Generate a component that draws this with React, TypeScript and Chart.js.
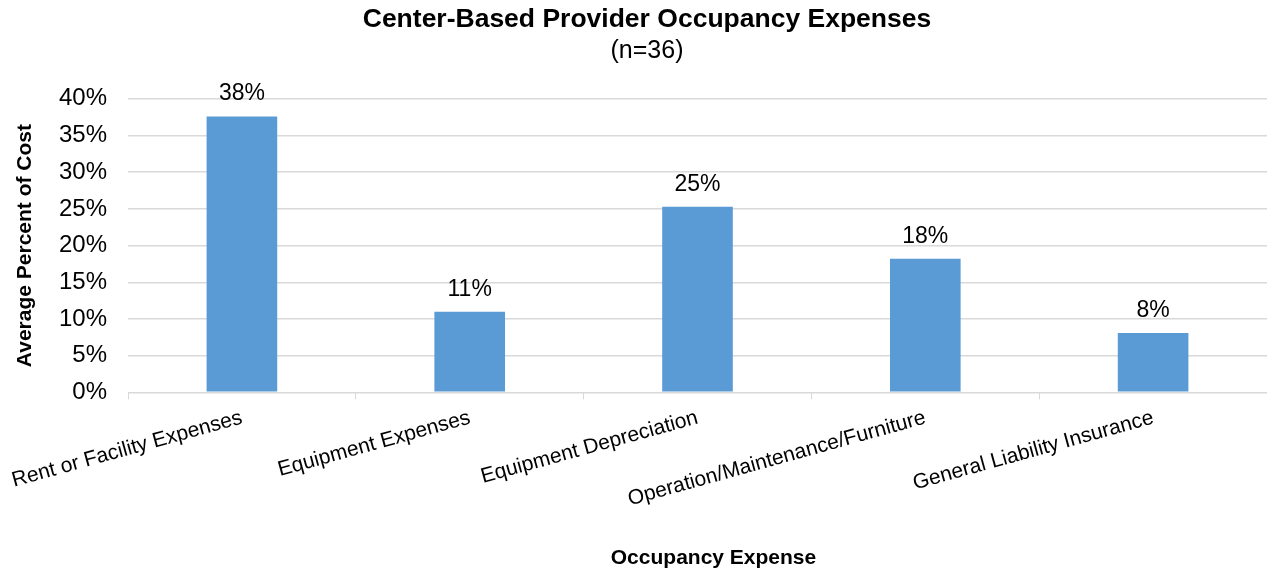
import React, { useEffect, useRef } from "react";
import { Chart, registerables } from "chart.js";

Chart.register(...registerables);

const categories = [
  "Rent or Facility Expenses",
  "Equipment Expenses",
  "Equipment Depreciation",
  "Operation/Maintenance/Furniture",
  "General Liability Insurance",
];
const values = [37.6, 11.0, 25.3, 18.2, 8.1];
const dataLabels = ["38%", "11%", "25%", "18%", "8%"];
const yTicks = [0, 5, 10, 15, 20, 25, 30, 35, 40];
const xAxisTitle = "Occupancy Expense";

const FONT = "'Liberation Sans', Arial, sans-serif";

const labelPlugin = {
  id: "barLabels",
  afterDatasetsDraw(chart: any) {
    const ctx = chart.ctx;
    const meta = chart.getDatasetMeta(0);
    ctx.save();
    ctx.font = `23px ${FONT}`;
    ctx.fillStyle = "#000";
    ctx.textAlign = "center";
    ctx.textBaseline = "alphabetic";
    meta.data.forEach((bar: any, i: number) => {
      ctx.fillText(dataLabels[i], bar.x, bar.y - 16);
    });
    // x axis title (offset to the right like the original)
    ctx.font = `bold 21px ${FONT}`;
    ctx.textBaseline = "middle";
    const ca = chart.chartArea;
    ctx.fillText(xAxisTitle, (ca.left + ca.right) / 2 + 16, chart.height - 16);
    ctx.restore();
  },
};

export default function App() {
  const ref = useRef<HTMLCanvasElement | null>(null);
  useEffect(() => {
    if (!ref.current) return;
    const chart = new Chart(ref.current, {
      type: "bar",
      data: {
        labels: categories,
        datasets: [
          {
            data: values,
            backgroundColor: "#5B9BD5",
            categoryPercentage: 1,
            barPercentage: 0.31,
          },
        ],
      },
      options: {
        animation: false,
        responsive: true,
        maintainAspectRatio: false,
        layout: { padding: { left: 27, right: 0, top: 4, bottom: 56 } },
        plugins: {
          legend: { display: false },
          tooltip: { enabled: false },
          title: {
            display: true,
            text: "Center-Based Provider Occupancy Expenses",
            color: "#000",
            font: { family: FONT, size: 26.5, weight: "bold" },
            padding: { top: 0, bottom: 0 },
          },
          subtitle: {
            display: true,
            text: "(n=36)",
            color: "#000",
            font: { family: FONT, size: 25 },
            padding: { top: 0, bottom: 33 },
          },
        },
        scales: {
          x: {
            offset: true,
            afterFit: (scale: any) => {
              scale.paddingLeft = 0;
            },
            grid: {
              display: true,
              drawOnChartArea: false,
              drawTicks: true,
              tickLength: 7,
              offset: true,
              color: "#d9d9d9",
            },
            border: { display: true, color: "#d9d9d9", width: 1 },
            ticks: {
              color: "#000",
              font: { family: FONT, size: 21 },
              minRotation: 15.5,
              maxRotation: 15.5,
              autoSkip: false,
              padding: 6,
            },
          },
          y: {
            min: 0,
            max: 40,
            afterBuildTicks: (axis: any) => {
              axis.ticks = yTicks.map((v) => ({ value: v }));
            },
            afterFit: (scale: any) => {
              scale.width = 101;
            },
            grid: { color: "#d9d9d9", drawTicks: false, lineWidth: 1.5 },
            border: { display: false },
            ticks: {
              color: "#000",
              font: { family: FONT, size: 24 },
              padding: 21,
              callback: (v: any) => `${v}%`,
            },
            title: {
              display: true,
              text: "Average Percent of Cost",
              color: "#000",
              font: { family: FONT, size: 21, weight: "bold" },
              padding: { top: -14.6, bottom: 20 },
            },
          },
        },
      },
      plugins: [labelPlugin],
    });
    return () => chart.destroy();
  }, []);
  return (
    <div style={{ position: "fixed", left: 0, top: 0, width: 1267, height: 574, background: "#fff" }}>
      <canvas ref={ref} />
    </div>
  );
}
